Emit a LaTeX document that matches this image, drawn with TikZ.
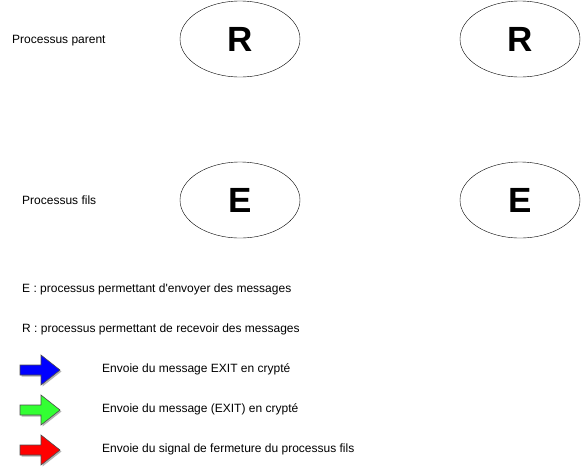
\documentclass[tikz,border=0pt]{standalone}
\usepackage{fontspec}
\setmainfont{Liberation Sans}
\usetikzlibrary{shapes.geometric}
\definecolor{arrblue}{HTML}{0000FF}
\definecolor{arrgreen}{HTML}{33FF33}
\definecolor{arrred}{HTML}{FF0000}
\begin{document}
\begin{tikzpicture}[x=1pt,y=-1pt,
  proc/.style={draw=black,ellipse,minimum width=120pt,minimum height=76pt,inner sep=0pt,font=\fontsize{35}{38}\selectfont\bfseries},
  lbl/.style={anchor=west,inner sep=0pt,font=\fontsize{12}{14}\selectfont},
  fatarrow/.style={draw=black!70,line width=0.6pt}
]
\useasboundingbox (0,0) rectangle (581,467);
\node[proc] (r1) at (240,39) {R};
\node[proc] (r2) at (520,39) {R};
\node[proc] (e1) at (240,200) {E};
\node[proc] (e2) at (520,200) {E};
\node[lbl] (tparent) at (12,40.5) {Processus parent};
\node[lbl] (tfils) at (22,200.5) {Processus fils};
\node[lbl] (le) at (22,289.5) {E : processus permettant d\textquotesingle envoyer des messages};
\node[lbl] (lr) at (22,329.5) {R : processus permettant de recevoir des messages};
\node[lbl] (lb) at (102,369.5) {Envoie du message EXIT en crypté};
\node[lbl] (lg) at (102,409.5) {Envoie du message (EXIT) en crypté};
\node[lbl] (lrd) at (102,449.5) {Envoie du signal de fermeture du processus fils};
\foreach \yc/\col in {370/arrblue,410/arrgreen,450/arrred}{
  \fill[gray!60,shift={(1.5,1.5)}] (20,\yc-5) -- ++(21,0) -- ++(0,-10) -- ++(19,15) -- ++(-19,15) -- ++(0,-10) -- ++(-21,0) -- cycle;
  \filldraw[fill=\col,fatarrow] (20,\yc-5) -- ++(21,0) -- ++(0,-10) -- ++(19,15) -- ++(-19,15) -- ++(0,-10) -- ++(-21,0) -- cycle;
}
\end{tikzpicture}
\end{document}
